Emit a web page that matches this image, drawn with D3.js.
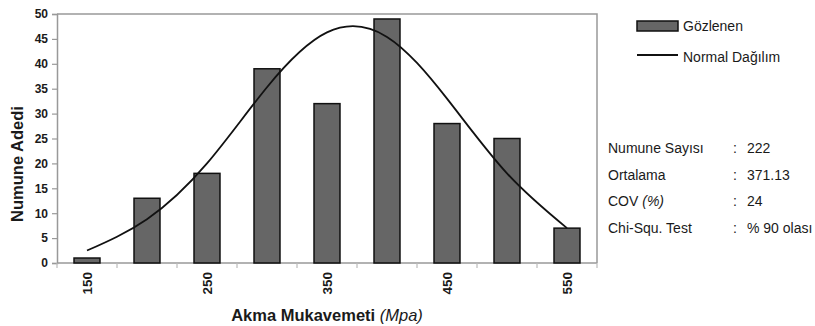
<!DOCTYPE html>
<html>
<head>
<meta charset="utf-8">
<script src="https://cdn.jsdelivr.net/npm/d3@7"></script>
<style>
    body { margin: 0; background: #fff; }
    svg { display: block; font-family: Arial, "Liberation Sans", sans-serif; }
</style>
</head>
<body>
<script>
// data
const categories = ['150', '200', '250', '300', '350', '400', '450', '500', '550'];
const observed = [1, 13, 18, 39, 32, 49, 28, 25, 7];
const normalFit = [2.5, 8.8, 20, 35.3, 46.3, 45.4, 33, 18, 7];
const xTickLabels = ['150', '250', '350', '450', '550'];
const yTicks = [0, 5, 10, 15, 20, 25, 30, 35, 40, 45, 50];
const legendItems = ['Gözlenen', 'Normal Dağılım'];
const statLabels = [['Numune Sayısı', ''], ['Ortalama', ''], ['COV ', '(%)'], ['Chi-Squ. Test', '']];
const statValues = ['222', '371.13', '24', '% 90 olası'];

const width = 815, height = 326;
const plot = {left: 57, right: 597, top: 14, bottom: 263};
const axisColor = '#999';

const svg = d3.select('body').append('svg')
    .attr('width', width)
    .attr('height', height);

const x = d3.scaleBand()
    .domain(categories)
    .range([plot.left, plot.right])
    .paddingInner(0.567)
    .paddingOuter(0.567 / 2);
const y = d3.scaleLinear()
    .domain([0, 50])
    .range([plot.bottom, plot.top]);

// plot frame (top and right)
svg.append('path')
    .attr('d', `M${plot.left},${plot.top}H${plot.right}V${plot.bottom}`)
    .attr('fill', 'none')
    .attr('stroke', axisColor)
    .attr('stroke-width', 1.5);

// y axis
const yAxis = svg.append('g')
    .attr('transform', `translate(${plot.left},0)`)
    .call(d3.axisLeft(y).tickValues(yTicks).tickSize(5).tickPadding(4));
yAxis.select('.domain').attr('stroke', axisColor).attr('stroke-width', 1.5);
yAxis.selectAll('.tick line').attr('stroke', axisColor).attr('stroke-width', 1.2);
yAxis.selectAll('.tick text')
    .attr('fill', '#1a1a1a')
    .style('font-size', '12px')
    .style('font-weight', 'bold');

// x axis: ticks between the bands, labels on every other band
const bounds = categories.map(c => x(c) - x.step() * x.paddingInner() / 2);
bounds.push(plot.right);
const xAxis = svg.append('g');
xAxis.append('line')
    .attr('x1', plot.left).attr('x2', plot.right)
    .attr('y1', plot.bottom).attr('y2', plot.bottom)
    .attr('stroke', axisColor).attr('stroke-width', 1.5);
xAxis.selectAll('line.tick')
    .data(bounds)
    .enter()
    .append('line')
    .attr('class', 'tick')
    .attr('x1', d => d).attr('x2', d => d)
    .attr('y1', plot.bottom).attr('y2', plot.bottom + 5)
    .attr('stroke', '#bbb').attr('stroke-width', 1.2);
xAxis.selectAll('text')
    .data(xTickLabels)
    .enter()
    .append('text')
    .attr('transform', d => `translate(${x(d) + x.bandwidth() / 2},272) rotate(-90)`)
    .attr('dy', '0.35em')
    .attr('text-anchor', 'end')
    .attr('fill', '#1a1a1a')
    .style('font-size', '13.5px')
    .style('font-weight', 'bold')
    .text(d => d);

// bars
svg.append('g')
    .selectAll('rect')
    .data(observed)
    .enter()
    .append('rect')
    .attr('x', (d, i) => x(categories[i]))
    .attr('y', d => y(d))
    .attr('width', x.bandwidth())
    .attr('height', d => y(0) - y(d))
    .attr('fill', '#666')
    .attr('stroke', '#111')
    .attr('stroke-width', 1.5);

// normal distribution curve
const line = d3.line()
    .x((d, i) => x(categories[i]) + x.bandwidth() / 2)
    .y(d => y(d))
    .curve(d3.curveNatural);
svg.append('path')
    .datum(normalFit)
    .attr('d', line)
    .attr('fill', 'none')
    .attr('stroke', '#111')
    .attr('stroke-width', 1.8);

// axis titles
svg.append('text')
    .attr('transform', 'translate(23,164) rotate(-90)')
    .attr('text-anchor', 'middle')
    .attr('fill', '#1a1a1a')
    .style('font-size', '16.5px')
    .style('font-weight', 'bold')
    .text('Numune Adedi');
const xTitle = svg.append('text')
    .attr('x', 327)
    .attr('y', 321)
    .attr('text-anchor', 'middle')
    .attr('fill', '#1a1a1a')
    .style('font-size', '16.5px');
xTitle.append('tspan').style('font-weight', 'bold').text('Akma Mukavemeti ');
xTitle.append('tspan').style('font-style', 'italic').text('(Mpa)');

// legend
const legend = svg.append('g').attr('transform', 'translate(637,0)');
legend.append('rect')
    .attr('x', 0).attr('y', 21)
    .attr('width', 41).attr('height', 10)
    .attr('fill', '#666').attr('stroke', '#111').attr('stroke-width', 1.5);
legend.append('line')
    .attr('x1', 0).attr('x2', 41)
    .attr('y1', 55).attr('y2', 55)
    .attr('stroke', '#111').attr('stroke-width', 1.8);
legend.selectAll('text')
    .data(legendItems)
    .enter()
    .append('text')
    .attr('x', 46)
    .attr('y', (d, i) => i === 0 ? 31 : 62)
    .attr('fill', '#1a1a1a')
    .style('font-size', '14px')
    .text(d => d);

// statistics block
const stats = svg.append('g');
const rowY = [153, 180, 206, 233];
statLabels.forEach((lab, i) => {
    const t = stats.append('text')
        .attr('x', 608).attr('y', rowY[i])
        .attr('fill', '#1a1a1a')
        .style('font-size', '14px');
    t.append('tspan').text(lab[0]);
    if (lab[1]) {
        t.append('tspan').style('font-style', 'italic').text(lab[1]);
    }
    stats.append('text')
        .attr('x', 733).attr('y', rowY[i])
        .attr('fill', '#1a1a1a')
        .style('font-size', '14px')
        .text(':');
    stats.append('text')
        .attr('x', 747).attr('y', rowY[i])
        .attr('fill', '#1a1a1a')
        .style('font-size', '14px')
        .text(statValues[i]);
});
</script>
</body>
</html>
